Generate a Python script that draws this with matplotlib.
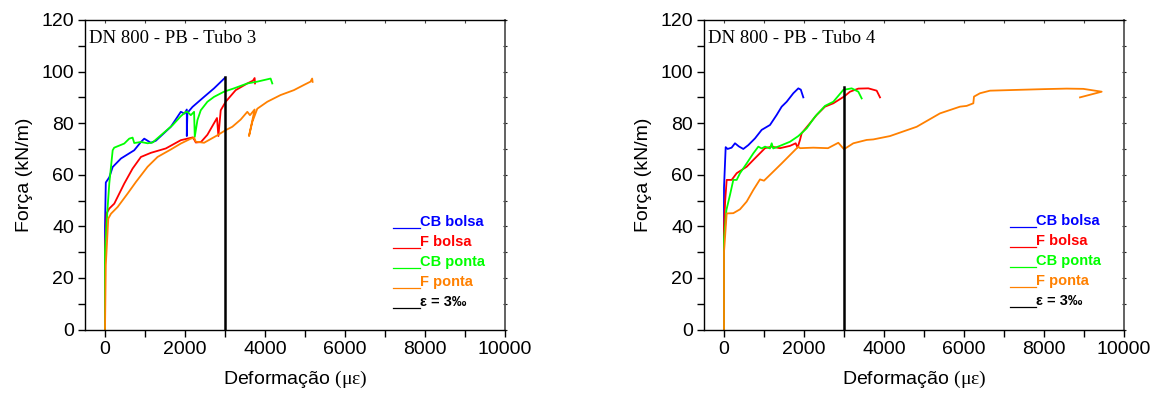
import matplotlib
matplotlib.use("Agg")
import matplotlib.pyplot as plt
from matplotlib.ticker import MultipleLocator

plt.rcParams['font.family'] = ['Liberation Sans', 'DejaVu Sans']
plt.rcParams['mathtext.fontset'] = 'custom'
plt.rcParams['mathtext.rm'] = 'Liberation Serif'

# ---------------- DN 800 - PB - Tubo 3 ----------------
t3_cb_bolsa_x = [0, 0, 20, 107, 192, 399, 731, 898, 981, 1147, 1272, 1646, 1895, 1990, 2045,
                 2045, 2060, 2187, 2477, 2726, 2993]
t3_cb_bolsa_y = [0, 40, 57, 59, 63, 66.3, 69.5, 72.7, 74, 72.4, 73.2, 78.6, 84.4, 83.7, 85.3,
                 75, 84, 86.3, 90.2, 93.5, 97.5]

t3_f_bolsa_x = [0, 0, 40, 107, 232, 482, 690, 898, 1147, 1521, 1895, 2061, 2200, 2270, 2400,
                2560, 2726, 2800, 2835, 2893, 3017, 3267, 3558, 3700, 3741, 3750]
t3_f_bolsa_y = [0, 30, 45, 46.9, 48.8, 56.6, 62.4, 66.9, 68.5, 70.2, 73.4, 74, 74.5, 72.5, 72.7,
                75.5, 80, 82, 75, 85, 88.3, 92.8, 95.4, 96.5, 97.5, 95.4]

t3_cb_ponta_x = [0, 0, 60, 107, 192, 230, 482, 606, 690, 731, 900, 1065, 1189, 1397, 1688, 1895,
                 2020, 2061, 2145, 2227, 2244, 2311, 2394, 2560, 2726, 2975, 3225, 3558, 3807,
                 4140, 4182]
t3_cb_ponta_y = [0, 30, 46, 56.6, 69.5, 70.5, 72.1, 74, 74.4, 72.3, 72.7, 72.2, 72.5, 75.3, 79.2,
                 82.7, 84.4, 84.4, 83.1, 84.4, 74.7, 81.2, 85, 88.3, 90.2, 92.2, 93.5, 95.4, 96.1,
                 97.3, 95.4]

t3_f_ponta_x = [0, 20, 82, 150, 316, 565, 773, 1065, 1314, 1646, 1895, 2145, 2230, 2269, 2477,
                2809, 3017, 3183, 3392, 3558, 3624, 3741, 3600, 3683, 3807, 4057, 4389, 4721,
                4970, 5137, 5179, 5190]
t3_f_ponta_y = [0, 25, 43, 44.9, 47.5, 52.7, 57.2, 63.1, 66.9, 69.8, 72.1, 74, 74.3, 72.8, 72.4,
                75.3, 77.3, 78.6, 81.4, 84.4, 83.1, 85.3, 75, 80.5, 85.6, 88.3, 90.9, 92.8,
                94.8, 96.1, 97.3, 96]

t3_eps_x = [3000, 3000]
t3_eps_y = [0, 98]

# ---------------- DN 800 - PB - Tubo 4 ----------------
t4_cb_bolsa_x = [0, 0, 42, 90, 190, 275, 370, 483, 608, 775, 942, 1150, 1317, 1442, 1567,
                 1733, 1858, 1920, 1983]
t4_cb_bolsa_y = [0, 55, 70.7, 70, 70.5, 72.2, 71, 70, 71.5, 74.1, 77.4, 79.3, 83.2, 86.4, 88.3,
                 91.6, 93.5, 93, 90]

t4_f_bolsa_x = [0, 0, 30, 67, 192, 317, 567, 775, 1025, 1192, 1400, 1650, 1792, 1840, 1900,
                1942, 2150, 2317, 2525, 2733, 3000, 3150, 3358, 3608, 3817, 3900]
t4_f_bolsa_y = [0, 40, 50, 58, 58, 60.6, 63.1, 66.4, 70.3, 70.9, 70.3, 71.2, 72.2, 70.5, 73.5,
                76.1, 80, 83.2, 86.4, 87.7, 90.3, 92.2, 93.4, 93.5, 92.6, 90]

t4_cb_ponta_x = [0, 0, 60, 150, 233, 317, 400, 567, 733, 858, 942, 1025, 1150, 1192, 1230, 1400,
                 1650, 1858, 2067, 2275, 2525, 2733, 2983, 3192, 3358, 3442]
t4_cb_ponta_y = [0, 35, 46.3, 52.2, 58, 58, 60.6, 64.4, 68.3, 70.9, 70.2, 70.9, 70.2, 72.2, 70.2,
                 71.2, 72.8, 75, 78, 82.5, 86.7, 88.3, 92.9, 93.5, 92.2, 89.6]

t4_f_ponta_x = [0, 0, 67, 233, 400, 567, 733, 900, 1000, 1192, 1442, 1692, 1858, 1900, 2233,
                2600, 2858, 3000, 3233, 3567, 3733, 4150, 4817, 5400, 5900, 6067, 6233, 6250,
                6400, 6650, 7317, 8000, 8567, 8983, 9442, 8900]
t4_f_ponta_y = [0, 30, 45, 45.1, 46.6, 49.6, 54.1, 58.2, 57.7, 60.6, 64.4, 68.3, 70.9, 70.3, 70.5,
                70.3, 72.4, 69.9, 72.2, 73.5, 73.7, 75, 78.6, 83.8, 86.4, 86.7, 87.7, 90.3,
                91.6, 92.6, 92.9, 93.2, 93.4, 93.3, 92.2, 90]

t4_eps_x = [3000, 3000]
t4_eps_y = [0, 94]

series_labels = ["CB bolsa", "F bolsa", "CB ponta", "F ponta", "ε = 3‰"]
series_colors = ["#0000FF", "#FF0000", "#00FF00", "#FF8000", "#000000"]

panels = [
    {
        "title": "DN 800 - PB - Tubo 3",
        "series": [(t3_cb_bolsa_x, t3_cb_bolsa_y), (t3_f_bolsa_x, t3_f_bolsa_y),
                   (t3_cb_ponta_x, t3_cb_ponta_y), (t3_f_ponta_x, t3_f_ponta_y)],
        "eps": (t3_eps_x, t3_eps_y),
        "left": 85 / 1162,
        "leg": (0.733, 0.798, 0.348),
    },
    {
        "title": "DN 800 - PB - Tubo 4",
        "series": [(t4_cb_bolsa_x, t4_cb_bolsa_y), (t4_f_bolsa_x, t4_f_bolsa_y),
                   (t4_cb_ponta_x, t4_cb_ponta_y), (t4_f_ponta_x, t4_f_ponta_y)],
        "eps": (t4_eps_x, t4_eps_y),
        "left": 704 / 1162,
        "leg": (0.729, 0.791, 0.3515),
    },
]

fig = plt.figure(figsize=(11.62, 3.98), dpi=100)

ax_w = 420 / 1162
ax_h = 309.5 / 398
ax_b = 1 - 329.5 / 398

for p in panels:
    ax = fig.add_axes([p["left"], ax_b, ax_w, ax_h])
    for (xs, ys), c in zip(p["series"], series_colors[:4]):
        ax.plot(xs, ys, color=c, lw=1.3, solid_joinstyle="round")
    ex, ey = p["eps"]
    ax.plot(ex, ey, color="black", lw=1.8)

    ax.set_xlim(-500, 10000)
    ax.set_ylim(0, 120)
    ax.xaxis.set_major_locator(MultipleLocator(2000))
    ax.xaxis.set_minor_locator(MultipleLocator(1000))
    ax.yaxis.set_major_locator(MultipleLocator(20))
    ax.yaxis.set_minor_locator(MultipleLocator(10))
    ax.tick_params(which="both", direction="out", labelsize=14, width=1, pad=3)
    ax.tick_params(which="major", length=5)
    ax.tick_params(which="minor", length=5)
    ax.tick_params(which="both", top=False, right=False)
    for side in ["left", "bottom", "top"]:
        ax.spines[side].set_color("black")
        ax.spines[side].set_linewidth(1.0)
    ax.spines["right"].set_color("#555555")
    ax.spines["right"].set_linewidth(1.3)

    # inner ticks on the top and right edges
    sec_x = ax.secondary_xaxis("top")
    sec_x.xaxis.set_major_locator(MultipleLocator(1000))
    sec_x.tick_params(direction="in", length=2, labeltop=False, color="#444444")
    sec_x.spines["top"].set_visible(False)
    sec_y = ax.secondary_yaxis("right")
    sec_y.yaxis.set_major_locator(MultipleLocator(10))
    sec_y.tick_params(direction="inout", length=3, labelright=False, color="#222222")
    sec_y.spines["right"].set_visible(False)

    ax.set_xlabel(r"Deformação $\mathrm{(με)}$", fontsize=14, labelpad=8)
    ax.set_ylabel("Força (kN/m)", fontsize=14, labelpad=6)

    ax.text(0.01, 0.926, p["title"], transform=ax.transAxes, fontsize=13.5,
            family=["Liberation Serif", "DejaVu Serif"], va="baseline", ha="left")

    lx0, tx0, ytop = p["leg"]
    step = 20 / 309.5
    for i, (lab, c) in enumerate(zip(series_labels, series_colors)):
        yc = ytop - i * step
        ax.plot([lx0, tx0], [yc - 6.5 / 309.5] * 2, transform=ax.transAxes, color=c,
                lw=0.9, clip_on=False)
        ax.text(tx0, yc, lab, transform=ax.transAxes, color=c, fontsize=10.5,
                fontweight="bold", va="center", ha="left")

fig.savefig("out.png", dpi=100)
